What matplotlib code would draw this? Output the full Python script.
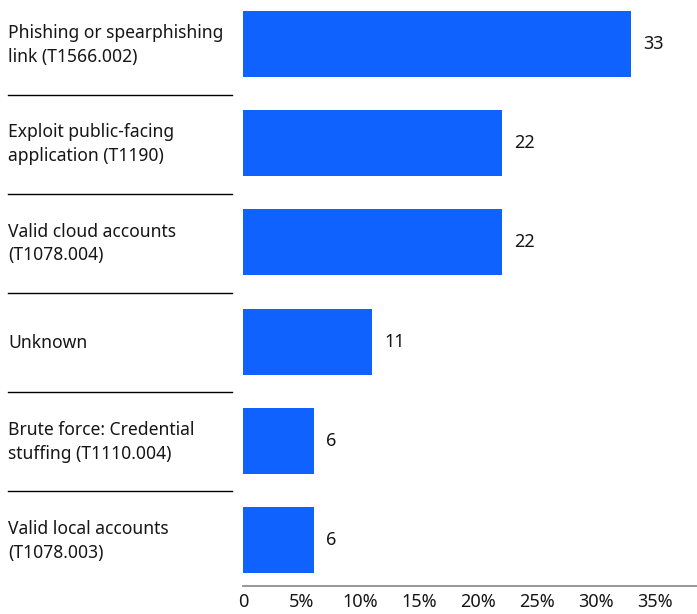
import matplotlib.pyplot as plt
from matplotlib.transforms import blended_transform_factory

categories = [
    'Phishing or spearphishing\nlink (T1566.002)',
    'Exploit public-facing\napplication (T1190)',
    'Valid cloud accounts\n(T1078.004)',
    'Unknown',
    'Brute force: Credential\nstuffing (T1110.004)',
    'Valid local accounts\n(T1078.003)',
]
values = [33, 22, 22, 11, 6, 6]
tick_values = [0, 5, 10, 15, 20, 25, 30, 35]
tick_labels = ['0', '5%', '10%', '15%', '20%', '25%', '30%', '35%']

plt.rcParams['font.family'] = ['Noto Sans', 'DejaVu Sans']

fig = plt.figure(figsize=(6.97, 6.14), dpi=100)
ax = fig.add_axes([243 / 697, 28 / 614, 454 / 697, 586 / 614])

y = list(range(len(categories)))
ax.barh(y, values, height=0.665, color='#0f62fe')

for yi, v in zip(y, values):
    ax.annotate(str(v), (v, yi), xytext=(9, 0), textcoords='offset points',
                ha='left', va='center', fontsize=13, color='#161616')

ax.set_xlim(0, 38.6)
ax.set_ylim(5.464, -0.444)

ax.set_xticks(tick_values)
ax.set_xticklabels(tick_labels, fontsize=13, color='#161616')
ax.tick_params(axis='x', length=0, pad=5)
ax.set_yticks([])
for side in ['top', 'right', 'left']:
    ax.spines[side].set_visible(False)
ax.spines['bottom'].set_color('#8d8d8d')
ax.spines['bottom'].set_linewidth(1.3)

# category labels and separators sit in the left margin
trans = blended_transform_factory(fig.transFigure, ax.transData)
for yi, label in zip(y, categories):
    ax.text(8 / 697, yi + 0.01, label, transform=trans, ha='left', va='center',
            fontsize=12.6, color='#161616', linespacing=1.4, clip_on=False)
for yi in y[:-1]:
    ax.plot([8 / 697, 232 / 697], [yi + 0.51, yi + 0.51], transform=trans,
            color='black', linewidth=1.0, clip_on=False)

fig.savefig('out.png', dpi=100)
